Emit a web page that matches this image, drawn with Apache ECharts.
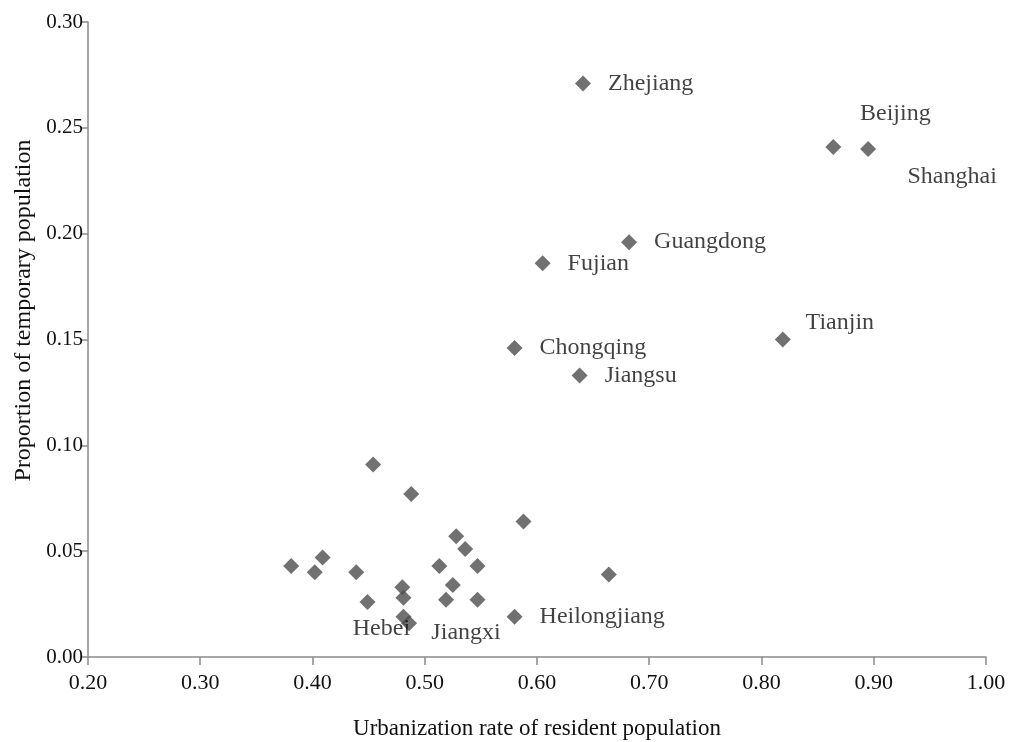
<!DOCTYPE html>
<html>
<head>
<meta charset="utf-8">
<script src="https://cdn.jsdelivr.net/npm/echarts@6/dist/echarts.min.js"></script>
<style>
  html, body { margin: 0; padding: 0; background: #fff; }
  #main { width: 1023px; height: 742px; }
</style>
</head>
<body>
<div id="main"></div>
<script>
// province labels (empty = unlabeled point)
var names = ['Zhejiang', 'Beijing', 'Shanghai', 'Guangdong', 'Fujian', 'Chongqing', 'Jiangsu', 'Tianjin',
  'Heilongjiang', 'Hebei', 'Jiangxi',
  '', '', '', '', '', '', '', '', '', '', '', '', '', '', '', '', '', ''];
// urbanization rate of resident population
var urbanization = [0.641, 0.864, 0.895, 0.682, 0.605, 0.580, 0.638, 0.819,
  0.580, 0.481, 0.486,
  0.454, 0.488, 0.588, 0.381, 0.409, 0.402, 0.439, 0.449, 0.480, 0.481,
  0.528, 0.536, 0.513, 0.547, 0.525, 0.519, 0.547, 0.664];
// proportion of temporary population
var temporary = [0.271, 0.241, 0.240, 0.196, 0.186, 0.146, 0.133, 0.150,
  0.019, 0.019, 0.016,
  0.091, 0.077, 0.064, 0.043, 0.047, 0.040, 0.040, 0.026, 0.033, 0.028,
  0.057, 0.051, 0.043, 0.043, 0.034, 0.027, 0.027, 0.039];

var xTicks = ['0.20', '0.30', '0.40', '0.50', '0.60', '0.70', '0.80', '0.90', '1.00'];
var yTicks = ['0.00', '0.05', '0.10', '0.15', '0.20', '0.25', '0.30'];

// labels that don't sit to the right of their point
var labelOffsets = {
  Beijing: [62, -33],
  Shanghai: [84, 28],
  Tianjin: [57, -17],
  Hebei: [-22, 12],
  Jiangxi: [57, 10]
};

var chart = echarts.init(document.getElementById('main'));
var serif = 'Liberation Serif, Times New Roman, serif';
var textColor = '#111';

var points = [];
for (var i = 0; i < names.length; i++) {
  var p = { name: names[i], value: [urbanization[i], temporary[i]] };
  if (labelOffsets[names[i]]) {
    p.label = { position: 'inside', offset: labelOffsets[names[i]], align: 'center' };
  }
  points.push(p);
}

var option = {
  backgroundColor: '#fff',
  animation: false,
  grid: { left: 88, right: 37, top: 22, bottom: 85, outerBoundsMode: 'none', containLabel: false },
  xAxis: {
    type: 'value',
    min: 0.2, max: 1.0, interval: 0.1,
    name: 'Urbanization rate of resident population',
    nameLocation: 'middle',
    nameGap: 60,
    nameTextStyle: { fontFamily: serif, fontSize: 23, color: textColor },
    axisLine: { lineStyle: { color: '#8a8a8a', width: 1.5 } },
    axisTick: { show: true, length: 8, lineStyle: { color: '#8a8a8a', width: 1.5 } },
    axisLabel: {
      margin: 15, fontFamily: serif, fontSize: 22, color: textColor,
      formatter: function (v) { return xTicks[Math.round((v - 0.2) * 10)]; }
    },
    splitLine: { show: false }
  },
  yAxis: {
    type: 'value',
    min: 0, max: 0.3, interval: 0.05,
    name: 'Proportion of temporary population',
    nameLocation: 'middle',
    nameGap: 52,
    nameTextStyle: { fontFamily: serif, fontSize: 24, color: textColor, padding: [0, 0, 0, 58] },
    axisLine: { show: true, lineStyle: { color: '#8a8a8a', width: 1.5 } },
    axisTick: { show: true, length: 7, lineStyle: { color: '#8a8a8a', width: 1.5 } },
    axisLabel: {
      margin: 5, fontFamily: serif, fontSize: 21, color: textColor,
      formatter: function (v) { return yTicks[Math.round(v / 0.05)]; }
    },
    splitLine: { show: false }
  },
  series: [{
    type: 'scatter',
    symbol: 'diamond',
    symbolSize: 16,
    itemStyle: { color: '#4d4d4d' },
    label: {
      show: true,
      position: 'right',
      distance: 17,
      fontFamily: serif,
      fontSize: 24,
      color: textColor,
      formatter: function (p) { return p.name; }
    },
    data: points
  }]
};

chart.setOption(option);
</script>
</body>
</html>
